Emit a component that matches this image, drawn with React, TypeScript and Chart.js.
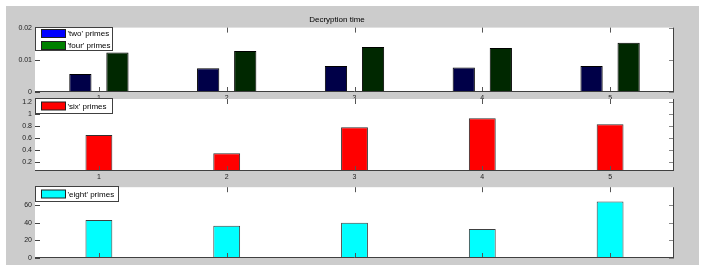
import React, { useEffect, useRef } from 'react';
import { Chart, registerables } from 'chart.js';
Chart.register(...registerables);

const categories = ['1', '2', '3', '4', '5'];
const twoPrimes = [0.0056, 0.0074, 0.0081, 0.0076, 0.0081];
const fourPrimes = [0.0123, 0.0127, 0.014, 0.0137, 0.0153];
const sixPrimes = [0.65, 0.345, 0.78, 0.93, 0.83];
const eightPrimes = [43.2, 36.8, 40.2, 32.9, 64.2];
const yTicks1 = [0, 0.01, 0.02];
const yTicks2 = [0.2, 0.4, 0.6, 0.8, 1, 1.2];
const yTicks3 = [0, 20, 40, 60];
const titleText = 'Decryption time';
const legend1 = ["'two' primes", "'four' primes"];
const legend2 = ["'six' primes"];
const legend3 = ["'eight' primes"];

const FONT = "'Liberation Sans', Arial, Helvetica, sans-serif";

const matlabPlugin = {
  id: 'matlab',
  beforeDraw(chart: any) {
    const { ctx, chartArea: a } = chart;
    ctx.save();
    ctx.fillStyle = '#ffffff';
    ctx.fillRect(a.left, a.top, a.right - a.left, a.bottom - a.top);
    ctx.restore();
  },
  afterDatasetsDraw(chart: any, _args: any, opts: any) {
    const { ctx, chartArea: a, scales } = chart;
    const xs = scales.x;
    const ys = scales.y;
    const L = 5;
    const line = (x1: number, y1: number, x2: number, y2: number) => {
      ctx.beginPath();
      ctx.moveTo(x1, y1);
      ctx.lineTo(x2, y2);
      ctx.stroke();
    };
    ctx.save();
    ctx.lineWidth = 1;
    ys.ticks.forEach((t: any) => {
      const py = Math.round(ys.getPixelForValue(t.value)) + 0.5;
      if (py < a.top - 1 || py > a.bottom + 1) return;
      ctx.strokeStyle = '#444444';
      line(a.left, py, a.left + L, py);
      ctx.strokeStyle = '#888888';
      line(a.right - L, py, a.right, py);
    });
    ctx.strokeStyle = '#555555';
    categories.forEach((_c, i) => {
      const px = Math.round(xs.getPixelForValue(i)) + 0.5;
      line(px, a.bottom, px, a.bottom - L);
      line(px, a.top, px, a.top + L);
    });
    ctx.strokeStyle = '#404040';
    const b = Math.round(a.bottom) - 0.5;
    const r = Math.round(a.right) - 0.5;
    line(a.left, b, a.right, b);
    line(r, a.top, r, a.bottom);

    // legend
    const items = opts.items || [];
    if (items.length) {
      const left = Math.round(a.left) + 0.5;
      const top = Math.round(a.top) - 0.5;
      const h = items.length === 1 ? 15 : 23;
      ctx.fillStyle = '#ffffff';
      ctx.fillRect(left, top, opts.width, h);
      ctx.strokeStyle = '#404040';
      ctx.strokeRect(left, top, opts.width, h);
      items.forEach((it: any, i: number) => {
        const ry = items.length === 1 ? top + 3.5 : top + 2 + i * 12;
        ctx.fillStyle = it.color;
        ctx.fillRect(left + 6, ry, 24, 8);
        ctx.strokeStyle = '#202020';
        ctx.strokeRect(left + 6, ry, 24, 8);
        ctx.fillStyle = '#000000';
        ctx.font = `8px ${FONT}`;
        ctx.textBaseline = 'middle';
        ctx.textAlign = 'left';
        ctx.fillText(it.label, left + 32, ry + 4.5);
      });
    }
    ctx.restore();
  },
};

function makeConfig(p: any): any {
  return {
    type: 'bar',
    data: { labels: categories, datasets: p.datasets },
    plugins: [matlabPlugin],
    options: {
      animation: false,
      responsive: false,
      devicePixelRatio: 1,
      layout: { padding: { top: p.padTop, right: 32, left: 0, bottom: 0 } },
      plugins: {
        legend: { display: false },
        tooltip: { enabled: false },
        title: p.title
          ? {
              display: true,
              text: p.title,
              color: '#000000',
              font: { family: FONT, size: 8, weight: 'normal', lineHeight: 1.2 },
              padding: { top: 15, bottom: 3 },
            }
          : { display: false },
        matlab: { items: p.legend, width: p.legendWidth },
      },
      scales: {
        x: {
          type: 'category',
          offset: true,
          grid: { display: false, drawTicks: false },
          border: { display: false },
          ticks: {
            display: p.showX,
            color: '#222222',
            padding: p.xPad,
            font: { family: FONT, size: 7 },
            maxRotation: 0,
            autoSkip: false,
          },
          afterFit: (s: any) => {
            s.height = p.xHeight;
          },
        },
        y: {
          type: 'linear',
          min: p.min,
          max: p.max,
          grid: { display: false, drawTicks: false },
          border: { display: false },
          ticks: {
            color: '#222222',
            padding: 3,
            font: { family: FONT, size: 7 },
            callback: (v: any) => String(v),
          },
          afterBuildTicks: (s: any) => {
            s.ticks = p.ticks.map((v: number) => ({ value: v }));
          },
          afterFit: (s: any) => {
            s.width = 35;
          },
        },
      },
    },
  };
}

export default function App() {
  const r1 = useRef<HTMLCanvasElement>(null);
  const r2 = useRef<HTMLCanvasElement>(null);
  const r3 = useRef<HTMLCanvasElement>(null);

  useEffect(() => {
    const c1 = new Chart(
      r1.current as HTMLCanvasElement,
      makeConfig({
        datasets: [
          {
            label: legend1[0],
            data: twoPrimes,
            backgroundColor: '#000048',
            borderColor: '#000000',
            borderWidth: 1,
            barPercentage: 0.6,
            categoryPercentage: 0.58,
          },
          {
            label: legend1[1],
            data: fourPrimes,
            backgroundColor: '#002800',
            borderColor: '#000000',
            borderWidth: 1,
            barPercentage: 0.6,
            categoryPercentage: 0.58,
          },
        ],
        padTop: 0,
        title: titleText,
        legend: [
          { label: legend1[0], color: '#0000ff' },
          { label: legend1[1], color: '#008000' },
        ],
        legendWidth: 77,
        showX: true,
        xPad: 2,
        xHeight: 12,
        min: 0,
        max: 0.02,
        ticks: yTicks1,
      })
    );
    const c2 = new Chart(
      r2.current as HTMLCanvasElement,
      makeConfig({
        datasets: [
          {
            label: legend2[0],
            data: sixPrimes,
            backgroundColor: '#ff0000',
            borderColor: '#303030',
            borderWidth: 1,
            barPercentage: 0.21,
            categoryPercentage: 1,
          },
        ],
        padTop: 9,
        title: null,
        legend: [{ label: legend2[0], color: '#ff0000' }],
        legendWidth: 77,
        showX: true,
        xPad: 2,
        xHeight: 14,
        min: 0.05,
        max: 1.25,
        ticks: yTicks2,
      })
    );
    const c3 = new Chart(
      r3.current as HTMLCanvasElement,
      makeConfig({
        datasets: [
          {
            label: legend3[0],
            data: eightPrimes,
            backgroundColor: '#00ffff',
            borderColor: '#404040',
            borderWidth: 1,
            barPercentage: 0.21,
            categoryPercentage: 1,
          },
        ],
        padTop: 7,
        title: null,
        legend: [{ label: legend3[0], color: '#00ffff' }],
        legendWidth: 83,
        showX: false,
        xPad: 2,
        xHeight: 15,
        min: 0,
        max: 80.5,
        ticks: yTicks3,
      })
    );
    return () => {
      c1.destroy();
      c2.destroy();
      c3.destroy();
    };
  }, []);

  const abs = (top: number): React.CSSProperties => ({ position: 'absolute', left: 0, top, display: 'block' });

  return (
    <div style={{ position: 'absolute', left: 0, top: 0, width: 706, height: 273, overflow: 'hidden', background: '#ffffff' }}>
      <div style={{ position: 'absolute', left: 6, top: 6, width: 693, height: 259, background: '#cccccc' }} />
      <canvas ref={r1} width={706} height={104} style={abs(0)} />
      <canvas ref={r2} width={706} height={95} style={abs(90)} />
      <canvas ref={r3} width={706} height={93} style={abs(180)} />
    </div>
  );
}
